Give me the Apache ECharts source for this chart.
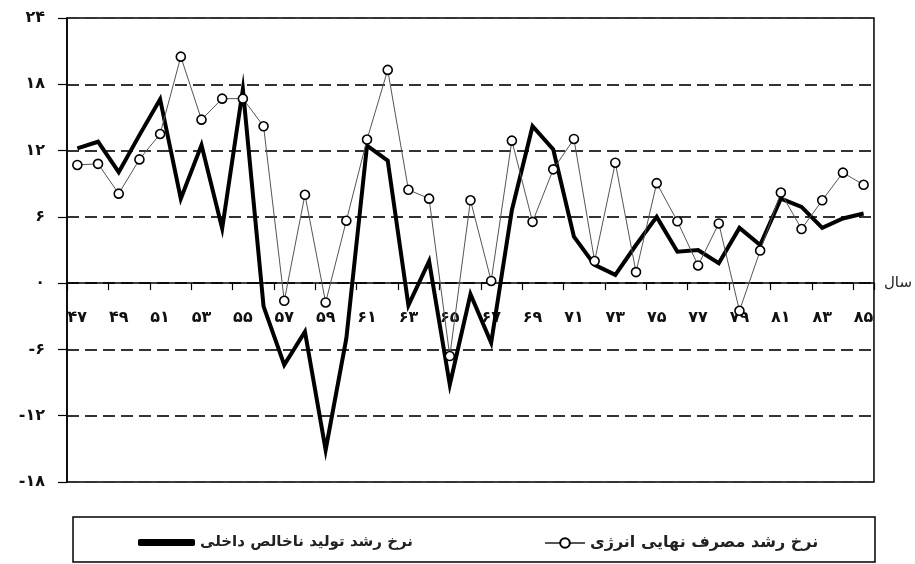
<!DOCTYPE html>
<html>
<head>
<meta charset="utf-8">
<script src="https://cdn.jsdelivr.net/npm/echarts@6/dist/echarts.min.js"></script>
<style>html,body{margin:0;padding:0;background:#fff;}#c{width:915px;height:564px;}</style>
</head>
<body>
<div id="c"></div>
<script>
// Years (Persian solar calendar, 13xx)
const years = ['47','48','49','50','51','52','53','54','55','56','57','58','59','60','61','62','63','64','65','66','67','68','69','70','71','72','73','74','75','76','77','78','79','80','81','82','83','84','85'];
// Growth rate of final energy consumption (%)
const energy = [10.7,10.8,8.1,11.2,13.5,20.5,14.8,16.7,16.7,14.2,-1.6,8.0,-1.75,5.65,13.0,19.3,8.45,7.65,-6.6,7.5,0.2,12.9,5.55,10.3,13.05,2.0,10.9,1.0,9.05,5.6,1.6,5.4,-2.5,2.95,8.2,4.9,7.5,10.0,8.9];
// Growth rate of GDP (%)
const gdp = [12.2,12.8,10.05,13.4,16.65,7.65,12.5,4.95,17.55,-2.1,-7.4,-4.4,-15.1,-5.0,12.45,11.1,-2.0,2.0,-9.2,-1.0,-5.4,6.6,14.2,12.1,4.2,1.65,0.75,3.45,6.0,2.85,3.0,1.8,5.0,3.45,7.65,6.9,5.0,5.85,6.3];
const yTicks = {min:-18, max:24, interval:6};
const nameGdp = 'نرخ رشد تولید ناخالص داخلی';
const nameEnergy = 'نرخ رشد مصرف نهایی انرژی';
const axisName = 'سال';

const fa = s => String(s).replace(/\d/g, d => '۰۱۲۳۴۵۶۷۸۹'[d]);
const FONT = 'DejaVu Sans';

const W = 915, H = 564;
const G = {left:67, right:38, top:18, bottom:82};
const gridH = H - G.top - G.bottom;
// move the category axis up to the zero line of the value axis
const zeroOffset = -gridH * (0 - yTicks.min) / (yTicks.max - yTicks.min);

const chart = echarts.init(document.getElementById('c'), null, {renderer:'canvas'});
chart.setOption({
  animation: false,
  backgroundColor: '#fff',
  grid: {left:G.left, right:G.right, top:G.top, bottom:G.bottom, show:true, borderColor:'#000', borderWidth:1.5, backgroundColor:'transparent'},
  legend: [
    {data:[nameGdp], left:133, top:530, icon:'roundRect', itemWidth:57, itemHeight:7, itemGap:5, selectedMode:false,
     textStyle:{fontFamily:FONT, fontSize:15, fontWeight:'bold', color:'#222'}},
    {data:[nameEnergy], left:539, top:530, itemWidth:40, itemHeight:12, selectedMode:false,
     textStyle:{fontFamily:FONT, fontSize:16, fontWeight:'bold', color:'#222'}}
  ],
  graphic: [
    {type:'rect', shape:{x:73, y:517, width:802, height:45}, style:{fill:'none', stroke:'#000', lineWidth:1.5}, silent:true}
  ],
  xAxis: {
    type:'category', data: years, boundaryGap:true, position:'bottom', offset: zeroOffset,
    name: axisName, nameLocation:'end', nameGap:10,
    nameTextStyle:{fontFamily:FONT, fontSize:15, color:'#222', align:'left', verticalAlign:'middle'},
    axisLine:{onZero:false, lineStyle:{color:'#000', width:1.5}},
    axisTick:{show:true, interval:1, length:7, lineStyle:{color:'#000', width:1.2}},
    axisLabel:{interval:1, margin:27, fontFamily:FONT, fontSize:16, fontWeight:'bold', color:'#111', formatter: v => fa(v)},
    splitLine:{show:false}
  },
  yAxis: {
    type:'value', min:yTicks.min, max:yTicks.max, interval:yTicks.interval,
    axisLine:{show:true, lineStyle:{color:'#000', width:1.5}},
    axisTick:{show:true, length:9, lineStyle:{color:'#000', width:1.2}},
    axisLabel:{margin:22, fontFamily:FONT, fontSize:16, fontWeight:'bold', color:'#111', formatter: v => (v<0?'-':'') + fa(Math.abs(v))},
    splitLine:{show:true, lineStyle:{color:'#333', width:2, type:[12,6]}}
  },
  series: [
    {name:nameGdp, type:'line', data:gdp, symbol:'none', z:2,
     lineStyle:{color:'#000', width:4, join:'miter'}, itemStyle:{color:'#000'}},
    {name:nameEnergy, type:'line', data:energy, symbol:'circle', symbolSize:9, z:3,
     lineStyle:{color:'#555', width:1}, itemStyle:{color:'#fff', borderColor:'#000', borderWidth:1.6}}
  ]
});
</script>
</body>
</html>
